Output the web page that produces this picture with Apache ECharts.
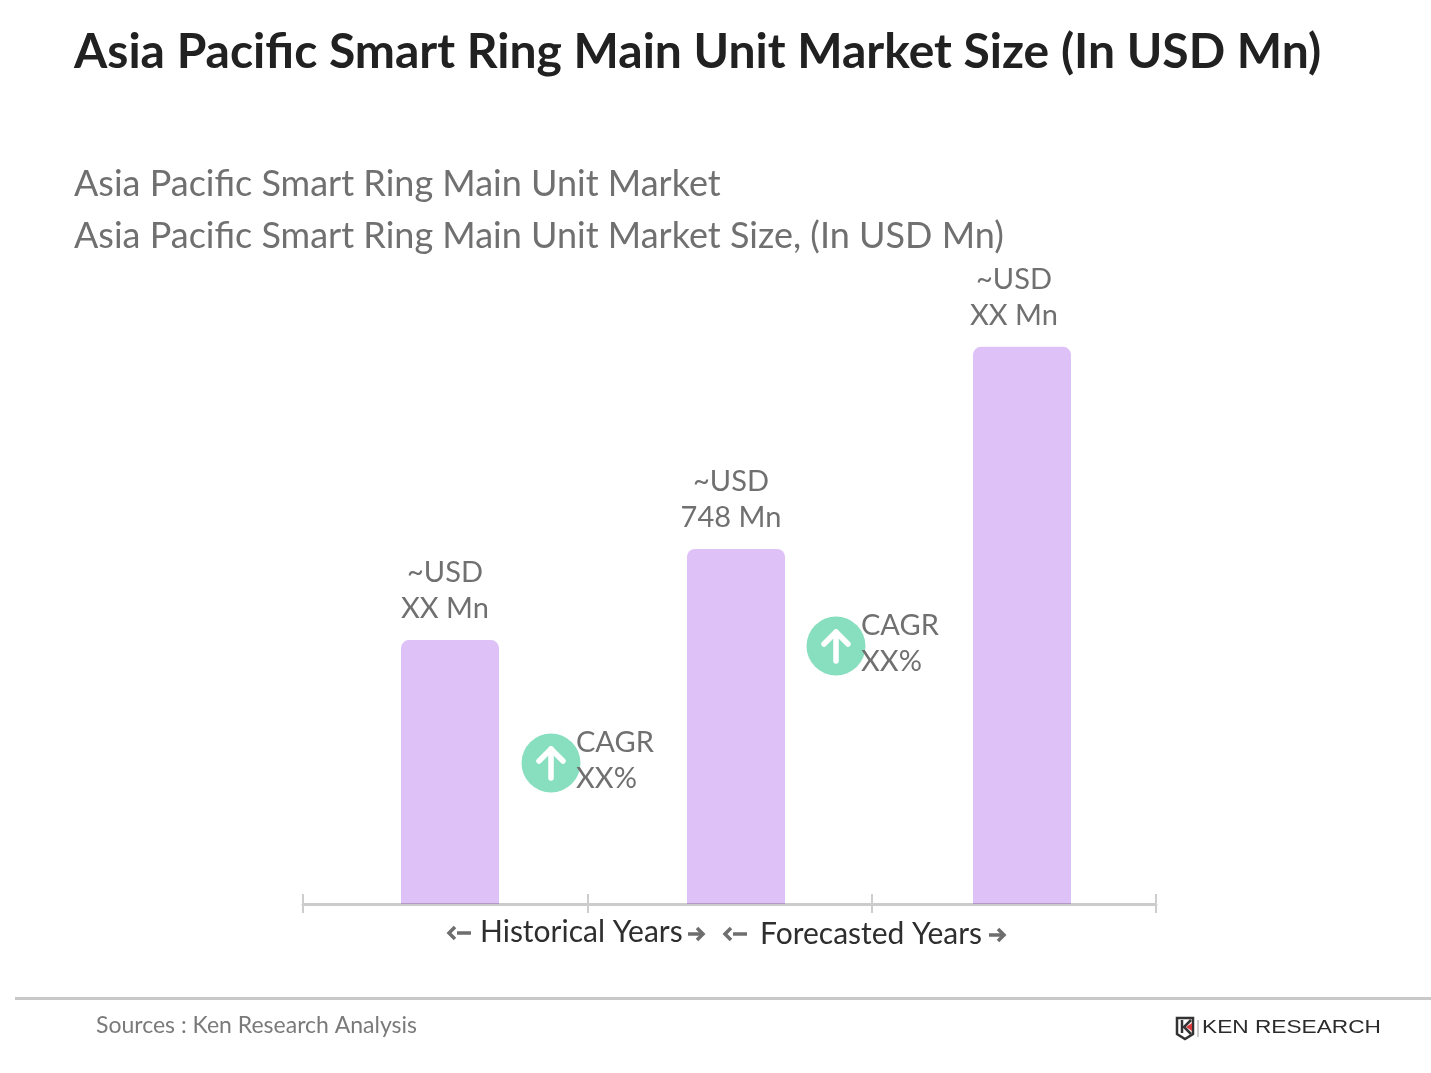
<!DOCTYPE html>
<html>
<head>
<meta charset="utf-8">
<title>Asia Pacific Smart Ring Main Unit Market Size</title>
<script src="https://cdn.jsdelivr.net/npm/echarts@6/dist/echarts.min.js"></script>
<style>
html, body { margin: 0; padding: 0; background: #fff; }
#main { width: 1431px; height: 1073px; }
</style>
</head>
<body>
<div id="main"></div>
<script>
// values for bars 1 and 3 are estimated from bar height, only 748 is printed
const categories = ['Historical start', 'Historical end', 'Forecast end'];
const marketSize = [556, 748, 1174];
const barLabels = ['~USD\nXX Mn', '~USD\n748 Mn', '~USD\nXX Mn'];
const labelShift = [-5, -5, -8];
const periods = ['Historical Years', 'Forecasted Years'];
const cagrLabel = 'CAGR\nXX%';

const FONT = 'Lato';
const GREY = '#707070';
const ARROW = '#6e6e6e';

// up arrow inside a green circle, with the CAGR text next to it
function cagrBadge(cx, cy) {
    return [
        { type: 'circle', shape: { cx: cx, cy: cy, r: 29.5 }, style: { fill: '#88dfc0' } },
        { type: 'polyline', shape: { points: [[cx, cy + 15], [cx, cy - 14]] },
          style: { stroke: '#fff', lineWidth: 5.5, lineCap: 'round', fill: null } },
        { type: 'polyline', shape: { points: [[cx - 12, cy - 2], [cx, cy - 14], [cx + 12, cy - 2]] },
          style: { stroke: '#fff', lineWidth: 5.5, lineCap: 'round', lineJoin: 'round', fill: null } },
        { type: 'text', x: cx + 25, y: cy - 38, z: 10,
          style: { text: cagrLabel, font: '29px ' + FONT, fill: GREY, lineHeight: 36 } }
    ];
}

// small thick arrow beside the period labels, dir -1 left, 1 right
function sideArrow(cx, cy, dir) {
    return {
        type: 'polyline',
        shape: { points: [[cx + dir * 6, cy - 6], [cx + dir * 0, cy - 6]].slice(0, 0).concat([
            [cx + dir * 1, cy - 6], [cx + dir * 7, cy], [cx + dir * 1, cy + 6]
        ]) },
        style: { stroke: ARROW, lineWidth: 3.5, fill: null, lineJoin: 'miter' }
    };
}
function sideShaft(cx, cy, dir) {
    return {
        type: 'line',
        shape: { x1: cx - dir * 8, y1: cy, x2: cx + dir * 6, y2: cy },
        style: { stroke: ARROW, lineWidth: 3.5 }
    };
}

const logo = [
    { type: 'polygon', shape: { points: [[1177, 1018], [1193, 1018], [1193, 1034], [1185, 1039], [1177, 1034]] },
      style: { fill: '#fff', stroke: '#333', lineWidth: 2.5 } },
    { type: 'polyline', shape: { points: [[1182, 1020], [1182, 1033]] }, style: { stroke: '#333', lineWidth: 2.5, fill: null } },
    { type: 'polyline', shape: { points: [[1191, 1020], [1184, 1027], [1191, 1034]] }, style: { stroke: '#333', lineWidth: 2.5, fill: null } },
    { type: 'polygon', shape: { points: [[1186, 1027], [1192, 1023], [1192, 1031]] }, style: { fill: '#d9383a' } },
    { type: 'line', shape: { x1: 1198, y1: 1020, x2: 1198, y2: 1037 }, style: { stroke: '#999', lineWidth: 1 } },
    { type: 'text', x: 1202, y: 1028, scaleX: 1.26,
      style: { text: 'KEN RESEARCH', font: '18px "Liberation Sans"', fill: '#2b2b2b', verticalAlign: 'middle' } }
];

const chart = echarts.init(document.getElementById('main'));
chart.setOption({
    animation: false,
    backgroundColor: '#fff',
    title: [
        { text: 'Asia Pacific Smart Ring Main Unit Market Size (In USD Mn)', left: 69, top: 24,
          textStyle: { fontFamily: FONT, fontSize: 48, fontWeight: 'bold', color: '#212121' } },
        { text: 'Asia Pacific Smart Ring Main Unit Market', left: 69, top: 161,
          textStyle: { fontFamily: FONT, fontSize: 36, fontWeight: 'normal', color: GREY } },
        { text: 'Asia Pacific Smart Ring Main Unit Market Size, (In USD Mn)', left: 69, top: 213,
          textStyle: { fontFamily: FONT, fontSize: 36, fontWeight: 'normal', color: GREY } }
    ],
    grid: [
        { left: 307, width: 858, top: 287, height: 617 },
        { left: 303, width: 853, top: 903, height: 1 }
    ],
    xAxis: [
        { type: 'category', gridIndex: 0, data: categories, show: false },
        { type: 'category', gridIndex: 1, position: 'bottom', data: categories, z: 5,
          axisLine: { lineStyle: { color: 'rgba(0,0,0,0.2)', width: 3 } },
          axisTick: { show: true, length: 9, lineStyle: { color: '#cdcdcd', width: 2 } },
          axisLabel: { show: false } },
        { type: 'category', gridIndex: 1, position: 'top', data: categories, z: 5,
          axisLine: { show: false },
          axisTick: { show: true, length: 9, lineStyle: { color: '#cdcdcd', width: 2 } },
          axisLabel: { show: false } }
    ],
    yAxis: [
        { type: 'value', gridIndex: 0, min: 0, max: 1300, show: false },
        { type: 'value', gridIndex: 1, show: false }
    ],
    series: [{
        type: 'bar',
        xAxisIndex: 0,
        yAxisIndex: 0,
        barWidth: 98,
        data: marketSize,
        itemStyle: { color: '#dec2f7', borderRadius: [8, 8, 0, 0] },
        label: {
            show: true,
            position: 'top',
            distance: 13,
            fontFamily: FONT,
            fontSize: 29,
            lineHeight: 36,
            color: GREY,
            align: 'center',
            formatter: function (p) { return barLabels[p.dataIndex]; }
        },
        labelLayout: function (p) {
            return { dx: labelShift[p.dataIndex] };
        }
    }],
    graphic: [
        ...cagrBadge(551, 763),
        ...cagrBadge(836, 646),
        { type: 'text', x: 480, y: 932,
          style: { text: periods[0], font: '30px ' + FONT, fill: '#2e2e2e', verticalAlign: 'middle' } },
        { type: 'text', x: 760, y: 934,
          style: { text: periods[1], font: '30px ' + FONT, fill: '#2e2e2e', verticalAlign: 'middle' } },
        sideShaft(463, 933, -1), sideArrow(456, 933, -1),
        sideShaft(696, 934, 1), sideArrow(696, 934, 1),
        sideShaft(739, 934, -1), sideArrow(732, 934, -1),
        sideShaft(997, 935, 1), sideArrow(997, 935, 1),
        { type: 'line', shape: { x1: 15, y1: 998.5, x2: 1431, y2: 998.5 },
          style: { stroke: '#c8c8c8', lineWidth: 3 } },
        { type: 'text', x: 96, y: 1026,
          style: { text: 'Sources : Ken Research Analysis', font: '23px ' + FONT, fill: '#7a7a7a', verticalAlign: 'middle' } },
        ...logo
    ]
});
</script>
</body>
</html>
